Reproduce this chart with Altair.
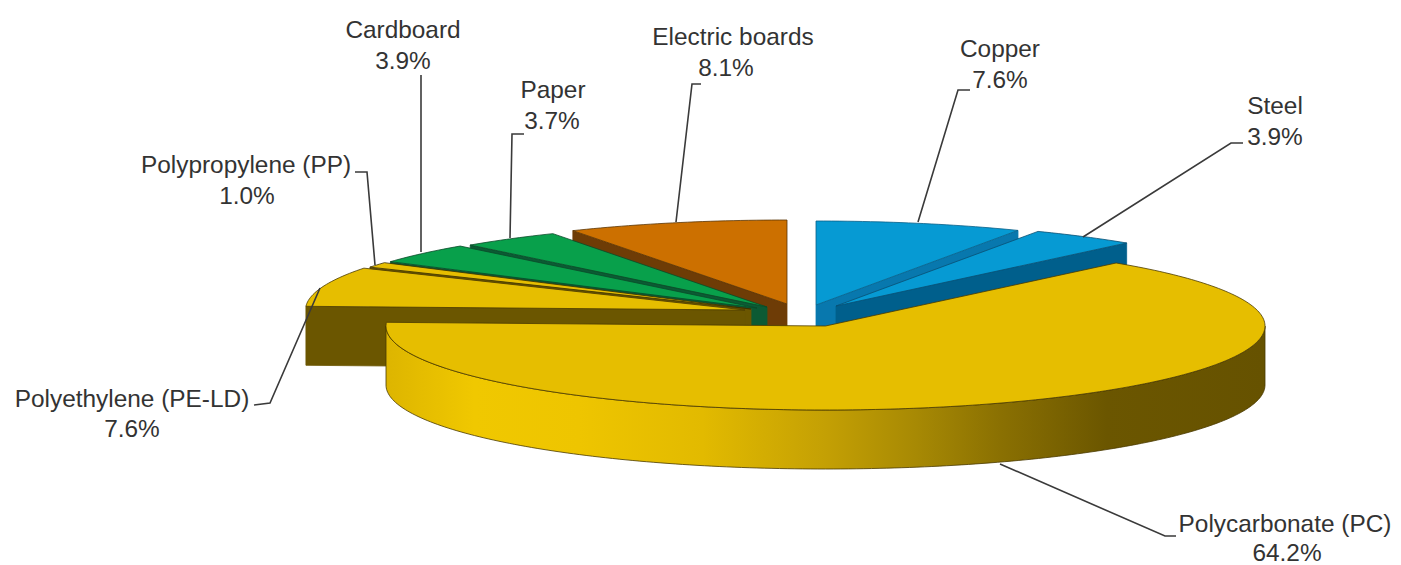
import math
import altair as alt

# ---- chart values ----
slice_names = ["Copper", "Steel", "Polycarbonate (PC)", "Polyethylene (PE-LD)",
               "Polypropylene (PP)", "Cardboard", "Paper", "Electric boards"]
shares = [7.6, 3.9, 64.2, 7.6, 1.0, 3.9, 3.7, 8.1]

# ---- styles ----
top_colors = ["#069AD3", "#069AD3", "#E6BE00", "#E6BE00", "#E6BE00", "#08A04B", "#08A04B", "#CC7000"]
wall_colors = ["#0878AE", "#005F8C", None, "#6B5600", "#6B5600", "#0C5A34", "#0C5A34", "#6E3C06"]
edge_colors = ["#0A5F88", "#0A4F72", "#4A3A00", "#4A3A00", "#3A2E00", "#0A4A28", "#0A4A28", "#5A3606"]

# ---- layout: where each exploded slice's apex sits (image pixels) ----
apexes = [(816, 305), (836, 306), (825.5, 326), (745, 310), (751, 309), (757, 308), (767, 307), (787, 304)]
RX, RY, DEPTH = 439.5, 84.0, 59.0
MARGIN, W, H = 8, 1385, 557

label_rows = [("Cardboard", 403, 31), ("3.9%", 403, 62),
              ("Paper", 553, 91), ("3.7%", 552, 122),
              ("Electric boards", 733, 38), ("8.1%", 726, 69),
              ("Copper", 1000, 50), ("7.6%", 1000, 81),
              ("Steel", 1275, 107), ("3.9%", 1275, 138),
              ("Polypropylene (PP)", 246, 166), ("1.0%", 247, 197),
              ("Polyethylene (PE-LD)", 132, 400), ("7.6%", 132, 430),
              ("Polycarbonate (PC)", 1285, 525), ("64.2%", 1287, 554)]
leaders = [[(355, 172), (367, 172), (375, 265)],
           [(421, 75), (421, 252)],
           [(524, 134), (512, 134), (510, 238)],
           [(701, 84), (692, 84), (676, 222)],
           [(970, 90), (958, 90), (918, 222)],
           [(1243, 143), (1231, 143), (1083, 237)],
           [(254, 405), (270, 403), (320, 288)],
           [(1000, 464), (1165, 536), (1176, 536)]]


def px(p):
    return [p[0] - MARGIN, p[1] - MARGIN]


def rim(apex, theta):
    t = math.radians(theta)
    return (apex[0] + RX * math.sin(t), apex[1] - RY * math.cos(t))


def arc(apex, a0, a1, step=1.0):
    n = max(2, int(abs(a1 - a0) / step) + 1)
    return [rim(apex, a0 + (a1 - a0) * i / (n - 1)) for i in range(n)]


def down(p):
    return (p[0], p[1] + DEPTH)


def poly(points, fill, stroke):
    ring = [px(p) for p in points]
    ring.append(ring[0])
    return {"type": "Feature", "geometry": {"type": "Polygon", "coordinates": [ring]},
            "properties": {"fill": fill, "stroke": stroke}}


def line(points):
    return {"type": "Feature", "geometry": {"type": "LineString", "coordinates": [px(p) for p in points]},
            "properties": {}}


bounds = []
acc = 0.0
for s in shares:
    bounds.append((acc * 3.6, (acc + s) * 3.6))
    acc += s

PC = slice_names.index("Polycarbonate (PC)")
features = [{"type": "Feature",
             "geometry": {"type": "Polygon", "coordinates": [[[0, 0], [W, 0], [W, H], [0, H], [0, 0]]]},
             "properties": {"fill": "#FFFFFF", "stroke": "#FFFFFF"}}]
order = [7, 6, 5, 4, 3, 0, 1]
for i in order:
    a0, a1 = bounds[i]
    apex = apexes[i]
    front = a1 if a0 < 90 else a0
    r = rim(apex, front)
    features.append(poly([apex, r, down(r), down(apex)], wall_colors[i], wall_colors[i]))
    features.append(poly([apex] + arc(apex, a0, a1), top_colors[i], edge_colors[i]))

a0, a1 = bounds[PC]
apex = apexes[PC]
wall_top = arc(apex, 90, 270)
pc_wall = [poly(wall_top + [down(p) for p in reversed(wall_top)], None, edge_colors[PC])]
pc_top = [poly([apex] + arc(apex, a0, a1), top_colors[PC], edge_colors[PC])]
leader_features = [line(l) for l in leaders]
label_values = [{"text": t, "lon": x - MARGIN, "lat": y - MARGIN} for t, x, y in label_rows]

gradient = alt.LinearGradient(
    gradient="linear", x1=0, x2=1, y1=0, y2=0,
    stops=[alt.GradientStop(color=c, offset=o) for c, o in [
        ("#DDB500", 0.0), ("#F0C800", 0.10), ("#EEC500", 0.22), ("#E2BA00", 0.36),
        ("#C4A004", 0.50), ("#A88A04", 0.60), ("#8A7002", 0.70), ("#6B5600", 0.82), ("#665200", 1.0)]])

projection = dict(type="identity", scale=1, translate=[0, 0])

faces = alt.Chart(alt.Data(values=features)).mark_geoshape(strokeWidth=0.8).encode(
    fill=alt.Fill("properties.fill:N", scale=None),
    stroke=alt.Stroke("properties.stroke:N", scale=None))
wall = alt.Chart(alt.Data(values=pc_wall)).mark_geoshape(fill=gradient, stroke="#4A3A00", strokeWidth=0.8)
top = alt.Chart(alt.Data(values=pc_top)).mark_geoshape(fill=top_colors[PC], stroke="#4A3A00", strokeWidth=0.8)
lines = alt.Chart(alt.Data(values=leader_features)).mark_geoshape(filled=False, stroke="#3A3A3A", strokeWidth=1.6)
labels = alt.Chart(alt.Data(values=label_values)).mark_text(
    font="Liberation Sans", fontSize=24.4, color="#333333", align="center", baseline="middle"
).encode(longitude="lon:Q", latitude="lat:Q", text="text:N")

chart = alt.layer(faces, wall, top, lines, labels).project(**projection).properties(
    width=W, height=H, padding=0, autosize=alt.AutoSizeParams(type="none"),
    background="#FFFFFF"
).configure_view(stroke=None)

chart.save("out.html", embed_options={"renderer": "svg", "actions": False})
